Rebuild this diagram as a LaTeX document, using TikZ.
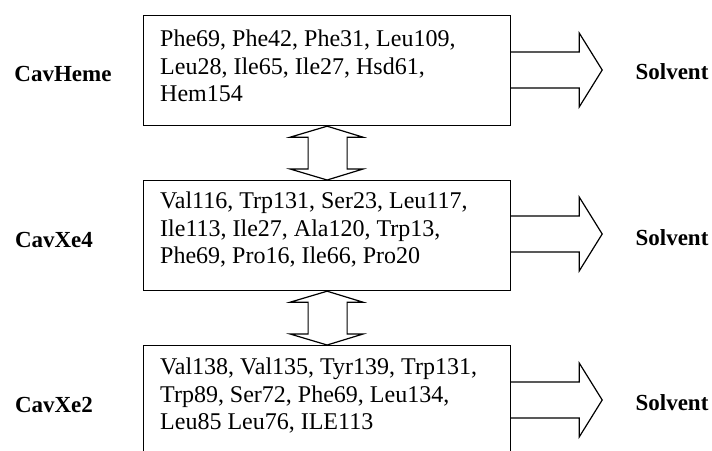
\documentclass[tikz,border=0pt]{standalone}
\usepackage{fontspec}
\setmainfont{Liberation Serif}
\usetikzlibrary{calc}
\begin{document}
\begin{tikzpicture}[x=1pt,y=-1pt,
  cavbox/.style={draw, line width=1.2pt, minimum width=367pt, minimum height=110pt,
    inner sep=0pt, anchor=north west},
  residues/.style={anchor=north west, align=left, inner sep=0pt,
    font=\fontsize{24}{27.5}\selectfont},
  cavlabel/.style={anchor=base, font=\fontsize{23}{26}\selectfont\bfseries},
  blockarrow/.style={draw, line width=1.2pt, line join=miter}
]
\useasboundingbox (0,0) rectangle (712,450);
\clip (0,0) rectangle (712,450);

% cavity boxes
\node[cavbox] (heme) at (143,15) {};
\node[cavbox] (xe4) at (143,180) {};
\node[cavbox] (xe2) at (143,345) {};

% residue lists
\node[residues] (hemetxt) at (160,30) {Phe69, Phe42, Phe31, Leu109,\\Leu28, Ile65, Ile27, Hsd61,\\Hem154};
\node[residues] (xe4txt) at (160,192) {Val116, Trp131, Ser23, Leu117,\\Ile113, Ile27, Ala120, Trp13,\\Phe69, Pro16, Ile66, Pro20};
\node[residues] (xe2txt) at (160,358) {Val138, Val135, Tyr139, Trp131,\\Trp89, Ser72, Phe69, Leu134,\\Leu85 Leu76, ILE113};

% cavity names
\node[cavlabel] (lheme) at (63,81) {CavHeme};
\node[cavlabel] (lxe4) at (54,247) {CavXe4};
\node[cavlabel] (lxe2) at (54,412) {CavXe2};

% solvent labels
\node[cavlabel] (s1) at (672,79) {Solvent};
\node[cavlabel] (s2) at (672,245) {Solvent};
\node[cavlabel] (s3) at (672,410) {Solvent};

% exits towards the solvent
\coordinate (e1) at ($(heme.north east)+(0,55)$);
\coordinate (e2) at ($(xe4.north east)+(0,54)$);
\coordinate (e3) at ($(xe2.north east)+(0,55)$);
\foreach \e in {e1,e2,e3}{
  \draw[blockarrow] ($(\e)+(0,-18)$) -- ++(68,0) -- ++(0,-19) -- ($(\e)+(91,0)$)
    -- ($(\e)+(68,37)$) -- ++(0,-19) -- ($(\e)+(0,18)$);
}

% exchange between neighbouring cavities
\foreach \a/\b in {heme/xe4, xe4/xe2}{
  \draw[blockarrow] (\a.south) -- ($(\a.south)+(-37,11)$) -- ++(18,0)
    -- ($(\b.north)+(-19,-11)$) -- ++(-18,0) -- (\b.north)
    -- ($(\b.north)+(36,-11)$) -- ++(-16,0)
    -- ($(\a.south)+(20,11)$) -- ++(16,0) -- cycle;
}
\end{tikzpicture}
\end{document}
